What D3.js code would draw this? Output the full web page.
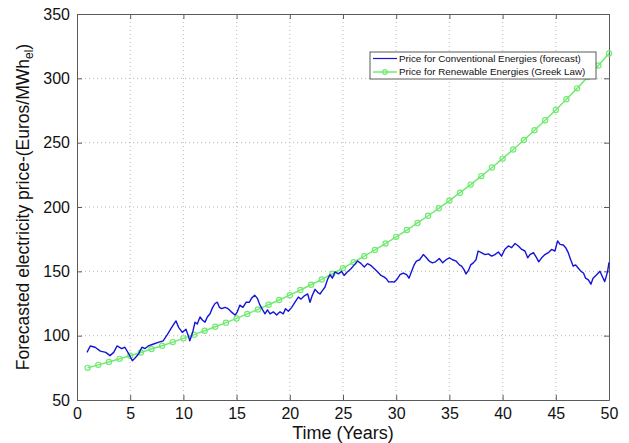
<!DOCTYPE html>
<html>
<head>
<meta charset="utf-8">
<script src="https://cdn.jsdelivr.net/npm/d3@7"></script>
<style>
  html, body { margin: 0; padding: 0; background: #fff; }
  svg { display: block; font-family: "Liberation Sans", Arial, Helvetica, sans-serif; }
</style>
</head>
<body>
<svg id="chart" width="629" height="443"></svg>
<script>
// Axis ticks
const xTicks = [0, 5, 10, 15, 20, 25, 30, 35, 40, 45, 50];
const yTicks = [50, 100, 150, 200, 250, 300, 350];

// Conventional energy price forecast (time in years, price in €/MWh)
const convTime = [0.94, 1.25, 1.7, 2.2, 2.7, 3.1, 3.45, 3.76, 4.2, 4.5, 4.85, 5.2, 5.5, 5.8, 6.1, 6.4, 6.7, 7.2, 7.7, 8.1,
  8.5, 8.8, 9.1, 9.3, 9.55, 9.9, 10.24, 10.46, 10.6, 10.87, 11.09, 11.3, 11.56, 11.8, 12.03, 12.25, 12.5, 12.75, 12.97, 13.19,
  13.38, 13.6, 13.9, 14.2, 14.5, 14.85, 15.07, 15.3, 15.6, 15.9, 16.2, 16.4, 16.7, 16.95, 17.2, 17.45, 17.67, 17.9, 18.14, 18.45,
  18.76, 19.08, 19.39, 19.6, 19.86, 20.18, 20.49, 20.8, 21.05, 21.37, 21.68, 21.9, 22.1, 22.37, 22.62, 22.84, 23.06, 23.3, 23.56, 23.78,
  24.0, 24.25, 24.56, 24.87, 25.1, 25.4, 25.75, 26.06, 26.38, 26.7, 27.0, 27.3, 27.6, 27.95, 28.26, 28.57, 28.88, 29.1, 29.3, 29.57,
  29.8, 30.04, 30.36, 30.67, 30.98, 31.2, 31.45, 31.68, 31.9, 32.2, 32.55, 32.8, 33.1, 33.4, 33.7, 34.05, 34.37, 34.68, 34.99, 35.3,
  35.62, 35.94, 36.15, 36.37, 36.56, 36.78, 37.0, 37.25, 37.5, 37.7, 38.0, 38.35, 38.66, 38.97, 39.28, 39.6, 39.9, 40.2, 40.54, 40.85,
  41.17, 41.48, 41.8, 42.1, 42.36, 42.57, 42.9, 43.2, 43.4, 43.67, 43.98, 44.3, 44.6, 44.92, 45.17, 45.4, 45.7, 45.93, 46.17, 46.4,
  46.64, 46.86, 47.1, 47.37, 47.6, 47.8, 48.06, 48.3, 48.5, 48.84, 49.15, 49.37, 49.6, 49.87, 50.0];
const convPrice = [87, 92, 91, 88, 87, 84.5, 87, 92, 90, 91, 86, 80.5, 83, 86, 91, 90, 92, 93.5, 95, 96,
  101, 105, 109, 111.5, 106.5, 102.5, 105, 100, 96, 102.6, 110.5, 109, 114.5, 112, 110.5, 114.5, 117, 122, 125, 126,
  122, 121, 122, 121, 118.5, 116, 118.5, 123.7, 122, 126, 126, 129, 131.5, 129, 123.7, 120, 117, 120, 117, 118.5,
  116, 118.5, 117, 121, 119, 122, 126, 130, 128.4, 131, 132.4, 126, 131, 136, 133.7, 132.4, 135, 137.6, 144, 147.4,
  144.7, 149.5, 148, 150, 146.8, 149.5, 152, 155, 158, 156, 153.4, 156, 154.7, 152, 149.5, 146.8, 145.5, 144, 141.6, 142,
  141.6, 143.4, 147.4, 148.7, 147.4, 144.7, 150, 155, 158, 159, 163, 161, 158, 156.6, 157.4, 160, 156.6, 159, 160.5, 159,
  158, 155, 154, 151.3, 148, 150.5, 155, 156.6, 159, 165.8, 164.5, 163, 163.6, 161.8, 163, 165, 161.8, 167, 169.7, 168.4,
  171.6, 169.7, 167, 165.8, 160.5, 163, 164.5, 160.5, 157.4, 160.5, 163, 164.5, 167, 165.8, 173.7, 171, 170.5, 168.4, 164.5, 159,
  154, 155, 152.6, 150, 148.7, 144.7, 143.4, 140, 144.7, 147.4, 150, 146, 142, 150, 157];

// Renewable energy price set by Greek law, one value per year
const renewYear = d3.range(1, 51);
const renewPrice = [75, 77.3, 79.6, 82.0, 84.4, 86.9, 89.6, 92.2, 95.0, 97.9,
  100.8, 103.8, 106.9, 110.1, 113.4, 116.9, 120.4, 124.0, 127.7, 131.5,
  135.5, 139.6, 143.7, 148.1, 152.5, 157.1, 161.8, 166.6, 171.6, 176.8,
  182.1, 187.6, 193.2, 199.0, 205.0, 211.1, 217.4, 224.0, 230.7, 237.6,
  244.7, 252.1, 259.6, 267.4, 275.4, 283.7, 292.2, 301.0, 310.0, 319.3];

const seriesNames = ["Price for Conventional Energies (forecast)", "Price for Renewable Energies (Greek Law)"];

const blue = "#1414d8";
const green = "#72ea72";
const axisColor = "#5a5a5a";

const svg = d3.select("#chart");
const plotLeft = 77, plotRight = 609, plotTop = 14, plotBottom = 400;

const x = d3.scaleLinear().domain([0, 50]).range([plotLeft, plotRight]);
const y = d3.scaleLinear().domain([50, 350]).range([plotBottom, plotTop]);

// Dotted grid
const grid = svg.append("g");
grid.selectAll("line.gx").data(xTicks.slice(1, -1)).join("line")
  .attr("x1", d => x(d)).attr("x2", d => x(d)).attr("y1", plotTop).attr("y2", plotBottom)
  .attr("stroke", "#b8b8b8").attr("stroke-width", 1).attr("stroke-dasharray", "1,3");
grid.selectAll("line.gy").data(yTicks.slice(1, -1)).join("line")
  .attr("x1", plotLeft).attr("x2", plotRight).attr("y1", d => y(d)).attr("y2", d => y(d))
  .attr("stroke", "#b8b8b8").attr("stroke-width", 1).attr("stroke-dasharray", "1,3");

// Axes with inward ticks on all four sides
function styleAxis(g) {
  g.select(".domain").attr("stroke", axisColor);
  g.selectAll(".tick line").attr("stroke", axisColor);
  g.selectAll("text").attr("fill", "#111").style("font-size", "16px")
    .style("font-family", "'Liberation Sans', Arial, sans-serif");
}
svg.append("g").attr("transform", `translate(0,${plotBottom})`)
  .call(d3.axisBottom(x).tickValues(xTicks).tickSizeInner(-5).tickSizeOuter(0).tickPadding(8))
  .call(styleAxis);
svg.append("g").attr("transform", `translate(0,${plotTop})`)
  .call(d3.axisTop(x).tickValues(xTicks).tickSizeInner(-5).tickSizeOuter(0).tickFormat(""))
  .call(styleAxis);
svg.append("g").attr("transform", `translate(${plotLeft},0)`)
  .call(d3.axisLeft(y).tickValues(yTicks).tickSizeInner(-5).tickSizeOuter(0).tickPadding(7))
  .call(styleAxis);
svg.append("g").attr("transform", `translate(${plotRight},0)`)
  .call(d3.axisRight(y).tickValues(yTicks).tickSizeInner(-5).tickSizeOuter(0).tickFormat(""))
  .call(styleAxis);

// Renewable price curve with circle markers
const renew = renewYear.map((t, i) => [t, renewPrice[i]]);
svg.append("path").datum(renew)
  .attr("fill", "none").attr("stroke", green).attr("stroke-width", 1.5)
  .attr("d", d3.line().x(d => x(d[0])).y(d => y(d[1])));
svg.append("g").selectAll("circle").data(renew).join("circle")
  .attr("cx", d => x(d[0])).attr("cy", d => y(d[1])).attr("r", 2.6)
  .attr("fill", "none").attr("stroke", green).attr("stroke-width", 1.2);

// Conventional price forecast
const conv = convTime.map((t, i) => [t, convPrice[i]]);
svg.append("path").datum(conv)
  .attr("fill", "none").attr("stroke", blue).attr("stroke-width", 1.4)
  .attr("stroke-linejoin", "round")
  .attr("d", d3.line().x(d => x(d[0])).y(d => y(d[1])));

// Legend
const lg = svg.append("g").attr("transform", "translate(370,52)");
lg.append("rect").attr("width", 226).attr("height", 27)
  .attr("fill", "#fff").attr("stroke", axisColor).attr("stroke-width", 1);
lg.append("line").attr("x1", 3).attr("x2", 27).attr("y1", 6.5).attr("y2", 6.5)
  .attr("stroke", blue).attr("stroke-width", 1.2);
lg.append("line").attr("x1", 3).attr("x2", 27).attr("y1", 20).attr("y2", 20)
  .attr("stroke", green).attr("stroke-width", 1.5);
lg.append("circle").attr("cx", 15).attr("cy", 20).attr("r", 2.4)
  .attr("fill", "none").attr("stroke", green).attr("stroke-width", 1.2);
lg.selectAll("text").data(seriesNames).join("text")
  .attr("x", 29).attr("y", (d, i) => 6.5 + i * 13.5).attr("dy", "0.35em")
  .style("font-size", "9.8px").attr("fill", "#111").text(d => d);

// Axis titles
svg.append("text").attr("x", (plotLeft + plotRight) / 2).attr("y", 439)
  .attr("text-anchor", "middle").style("font-size", "18px").attr("fill", "#111")
  .text("Time (Years)");
const yl = svg.append("text")
  .attr("transform", `translate(29,${(plotTop + plotBottom) / 2}) rotate(-90)`)
  .attr("text-anchor", "middle").style("font-size", "17.5px").attr("fill", "#111");
yl.append("tspan").text("Forecasted electricity price-(Euros/MWh");
yl.append("tspan").attr("dy", 4).style("font-size", "12px").text("el");
yl.append("tspan").attr("dy", -4).text(")");
</script>
</body>
</html>
